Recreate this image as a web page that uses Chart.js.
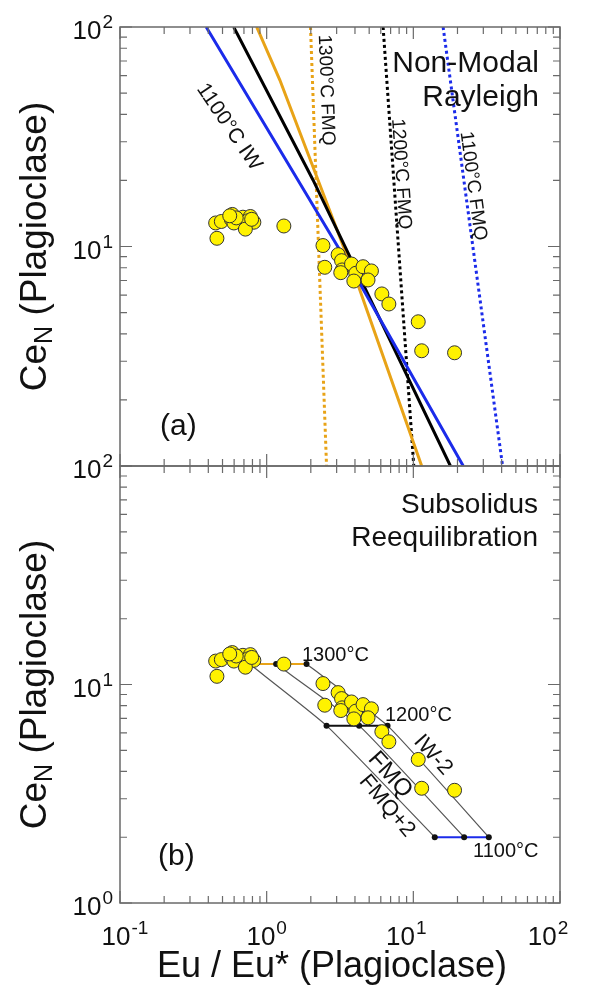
<!DOCTYPE html>
<html><head><meta charset="utf-8">
<script src="https://cdn.jsdelivr.net/npm/chart.js@4.4.1/dist/chart.umd.min.js"></script>
<style>
html,body{margin:0;padding:0;background:#fff;}
#wrap{position:relative;width:590px;height:988px;overflow:hidden;background:#fff;}
canvas{position:absolute;left:0;top:0;width:590px;height:988px;}
</style></head><body>
<div id="wrap"><canvas id="cA" width="590" height="988"></canvas><canvas id="cB" width="590" height="988"></canvas></div>
<script>
// ---------- DATA ----------
const sampleEu = [0.449,0.491,0.583,0.574,0.598,0.689,0.774,0.745,0.818,0.716,0.458,0.62,0.79,0.56,1.31,
                  2.42,2.49,3.07,3.24,3.27,3.79,4.05,3.93,4.54,5.18,4.91,3.20,6.10,6.81,10.8,11.4,19.1];
const sampleCe = [12.8,13.0,14.0,13.3,12.8,13.6,13.7,13.1,12.9,12.0,10.9,13.5,13.3,13.8,12.4,
                  10.1,8.04,9.18,8.62,7.82,8.32,7.55,6.96,8.09,7.74,7.04,7.6,6.08,5.47,4.54,3.35,3.28];

// (a) Non-modal Rayleigh model curves
const iw1100X  = [0.387, 4.31, 21.9];   const iw1100Y  = [100, 6.80, 1];
const fmq1200X = [0.596, 2.07, 17.9];   const fmq1200Y = [100, 20.1, 1];
const fmq1300X = [0.855, 1.23, 4.20, 11.4]; const fmq1300Y = [100, 57.3, 6.68, 1];
const dot1300X = [1.99, 2.56];  const dot1300Y = [100, 1];
const dot1200X = [6.22, 10.07]; const dot1200Y = [100, 1];
const dot1100X = [15.96, 40.6]; const dot1100Y = [100, 1];

// (b) Subsolidus reequilibration: buffers FMQ+2, FMQ, IW-2
const iso1300X = [0.766, 1.16, 1.87]; const iso1300Y = 12.4;
const iso1200X = [2.56, 4.27, 6.67];  const iso1200Y = 6.48;
const iso1100X = [14.0, 22.2, 32.7];  const iso1100Y = 2.0;

// ticks
const xTickValues = [0.1, 1, 10, 100];
const xTickExps   = ['-1', '0', '1', '2'];
const yTickValuesA = [10, 100];  const yTickExpsA = ['1', '2'];
const yTickValuesB = [1, 10, 100]; const yTickExpsB = ['0', '1', '2'];

// ---------- helpers ----------
const FONT = '"Liberation Sans", Arial, Helvetica, sans-serif';
const ORANGE = '#E8A317', BLUE = '#1B2BEA', YELLOW = '#FFF200';
const X_LABEL_SHIFT = [5, 0, -7, -12];
const zip = (xs, ys) => xs.map((v, i) => ({x: v, y: Array.isArray(ys) ? ys[i] : ys}));
const samples = zip(sampleEu, sampleCe);

function minorVals(lo, hi) {
  const out = [];
  for (let d = Math.log10(lo); d < Math.log10(hi); d++) {
    const b = Math.pow(10, d);
    for (let m = 1; m <= 9; m++) out.push({v: m * b, major: m === 1});
  }
  out.push({v: hi, major: true});
  return out;
}

function drawFrameTicks(chart) {
  const {ctx, chartArea: a, scales: {x, y}} = chart;
  ctx.save();
  ctx.strokeStyle = '#6a6a6a';
  ctx.lineWidth = 1.5;
  ctx.strokeRect(a.left, a.top, a.right - a.left, a.bottom - a.top);
  ctx.lineWidth = 1.2;
  ctx.beginPath();
  minorVals(x.min, x.max).forEach(t => {
    const px = x.getPixelForValue(t.v), L = t.major ? 12 : 7;
    ctx.moveTo(px, a.bottom); ctx.lineTo(px, a.bottom - L);
    ctx.moveTo(px, a.top); ctx.lineTo(px, a.top + L);
  });
  minorVals(y.min, y.max).forEach(t => {
    const py = y.getPixelForValue(t.v), L = t.major ? 12 : 7;
    ctx.moveTo(a.left, py); ctx.lineTo(a.left + L, py);
    ctx.moveTo(a.right, py); ctx.lineTo(a.right - L, py);
  });
  ctx.stroke();
  ctx.restore();
}

function drawPow(ctx, exp, x, y, align) {
  ctx.save();
  ctx.fillStyle = '#111';
  ctx.textBaseline = 'alphabetic';
  ctx.textAlign = 'left';
  ctx.font = '26px ' + FONT;
  const w1 = ctx.measureText('10').width;
  ctx.font = '19px ' + FONT;
  const w2 = ctx.measureText(exp).width;
  const tw = w1 + w2 + 1;
  let x0 = align === 'right' ? x - tw : x - tw / 2;
  ctx.font = '26px ' + FONT;
  ctx.fillText('10', x0, y);
  ctx.font = '19px ' + FONT;
  ctx.fillText(exp, x0 + w1 + 1, y - 11);
  ctx.restore();
}

function drawYTitle(ctx, cx, cy) {
  ctx.save();
  ctx.translate(cx, cy);
  ctx.rotate(-Math.PI / 2);
  ctx.fillStyle = '#111';
  ctx.textBaseline = 'alphabetic';
  ctx.textAlign = 'left';
  ctx.font = '37px ' + FONT;
  const wCe = ctx.measureText('Ce').width;
  const wRest = ctx.measureText(' (Plagioclase)').width;
  ctx.font = '25px ' + FONT;
  const wN = ctx.measureText('N').width;
  const tot = wCe + wN + wRest;
  let x0 = -tot / 2;
  ctx.font = '37px ' + FONT;
  ctx.fillText('Ce', x0, 0);
  ctx.font = '25px ' + FONT;
  ctx.fillText('N', x0 + wCe, 6);
  ctx.font = '37px ' + FONT;
  ctx.fillText(' (Plagioclase)', x0 + wCe + wN, 0);
  ctx.restore();
}

function txt(ctx, s, x, y, size, align, rot) {
  ctx.save();
  ctx.fillStyle = '#111';
  ctx.font = size + 'px ' + FONT;
  ctx.translate(x, y);
  if (rot) ctx.rotate(rot * Math.PI / 180);
  ctx.textAlign = align || 'left';
  ctx.textBaseline = rot ? 'middle' : 'alphabetic';
  ctx.fillText(s, 0, 0);
  ctx.restore();
}

const lineDS = (xs, ys, color, width, dash) => ({
  data: zip(xs, ys), showLine: true, pointRadius: 0, borderColor: color,
  backgroundColor: color, borderWidth: width, borderDash: dash || [], fill: false,
  tension: 0, clip: 0, order: 2, borderCapStyle: 'butt'
});

const pointDS = {
  data: samples, showLine: false, pointRadius: 7, pointHoverRadius: 7,
  backgroundColor: YELLOW, borderColor: '#333', borderWidth: 1, order: 0
};

const logScales = (ymin, ymax) => ({
  x: {type: 'logarithmic', min: 0.1, max: 100, display: false},
  y: {type: 'logarithmic', min: ymin, max: ymax, display: false}
});

const common = {
  responsive: false, animation: false, devicePixelRatio: 1,
  plugins: {legend: {display: false}, tooltip: {enabled: false}},
  events: []
};

// ---------- Chart (a) ----------
new Chart(document.getElementById('cA'), {
  type: 'scatter',
  data: {datasets: [
    pointDS,
    lineDS(iw1100X, iw1100Y, BLUE, 3),
    lineDS(fmq1200X, fmq1200Y, '#000', 3),
    lineDS(fmq1300X, fmq1300Y, ORANGE, 3),
    lineDS(dot1300X, dot1300Y, ORANGE, 3, [3, 3]),
    lineDS(dot1200X, dot1200Y, '#000', 3, [3, 3]),
    lineDS(dot1100X, dot1100Y, BLUE, 3, [3, 3])
  ]},
  options: Object.assign({}, common, {
    layout: {padding: {left: 120, right: 30, top: 27, bottom: 522}},
    scales: logScales(1, 100)
  }),
  plugins: [{
    id: 'decoA',
    afterDraw(chart) {
      const ctx = chart.ctx, y = chart.scales.y, a = chart.chartArea;
      drawFrameTicks(chart);
      yTickValuesA.forEach((v, i) => drawPow(ctx, yTickExpsA[i], 113, y.getPixelForValue(v) + 12, 'right'));
      drawYTitle(ctx, 46, (a.top + a.bottom) / 2);
      txt(ctx, 'Non-Modal', 539, 72, 30, 'right');
      txt(ctx, 'Rayleigh', 539, 106, 30, 'right');
      txt(ctx, '(a)', 160, 435, 30, 'left');
      txt(ctx, '1300°C FMQ', 326, 90, 19, 'center', 87.9);
      txt(ctx, '1200°C FMQ', 401, 174, 19, 'center', 86);
      txt(ctx, '1100°C FMQ', 473, 186, 19, 'center', 82.3);
      txt(ctx, '1100°C IW', 229, 127, 21, 'center', 56);
    }
  }]
});

// ---------- Chart (b) ----------
const isoDots = zip(iso1300X, iso1300Y).concat(zip(iso1200X, iso1200Y), zip(iso1100X, iso1100Y));
const bufLine = (k) => ({
  data: [{x: iso1300X[k], y: iso1300Y}, {x: iso1200X[k], y: iso1200Y}, {x: iso1100X[k], y: iso1100Y}],
  showLine: true, pointRadius: 0, borderColor: '#555', borderWidth: 1.2, tension: 0.15,
  fill: false, clip: 0, order: 3
});
new Chart(document.getElementById('cB'), {
  type: 'scatter',
  data: {datasets: [
    pointDS,
    {data: isoDots, showLine: false, pointRadius: 3, backgroundColor: '#111', borderColor: '#111', borderWidth: 0, order: 1},
    Object.assign(lineDS(iso1300X, iso1300Y, ORANGE, 2), {order: 2}),
    Object.assign(lineDS(iso1200X, iso1200Y, '#111', 2), {order: 2}),
    Object.assign(lineDS(iso1100X, iso1100Y, BLUE, 2), {order: 2}),
    bufLine(0), bufLine(1), bufLine(2)
  ]},
  options: Object.assign({}, common, {
    layout: {padding: {left: 120, right: 30, top: 466, bottom: 85}},
    scales: logScales(1, 100)
  }),
  plugins: [{
    id: 'decoB',
    afterDraw(chart) {
      const ctx = chart.ctx, x = chart.scales.x, y = chart.scales.y, a = chart.chartArea;
      drawFrameTicks(chart);
      yTickValuesB.forEach((v, i) => drawPow(ctx, yTickExpsB[i], 113, y.getPixelForValue(v) + 12, 'right'));
      xTickValues.forEach((v, i) => drawPow(ctx, xTickExps[i], x.getPixelForValue(v) + X_LABEL_SHIFT[i], 945, 'center'));
      drawYTitle(ctx, 46, (a.top + a.bottom) / 2);
      txt(ctx, 'Eu / Eu* (Plagioclase)', 332, 977, 36, 'center');
      txt(ctx, 'Subsolidus', 538, 513, 28, 'right');
      txt(ctx, 'Reequilibration', 538, 546, 28, 'right');
      txt(ctx, '(b)', 158, 865, 30, 'left');
      txt(ctx, '1300°C', 302, 661, 20, 'left');
      txt(ctx, '1200°C', 385, 721, 20, 'left');
      txt(ctx, '1100°C', 473, 857, 20, 'left');
      txt(ctx, 'IW-2', 433, 755, 22, 'center', 48);
      txt(ctx, 'FMQ', 390, 775, 24, 'center', 48);
      txt(ctx, 'FMQ+2', 387, 806, 22, 'center', 50);
    }
  }]
});
</script>
</body></html>
